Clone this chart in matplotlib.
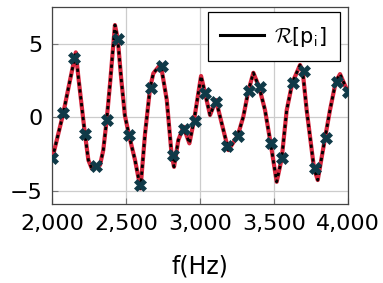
import numpy as np
import matplotlib
matplotlib.use("Agg")
import matplotlib.pyplot as plt
from matplotlib.lines import Line2D

plt.rcParams['font.family'] = ['DejaVu Sans']
plt.rcParams['mathtext.fontset'] = 'cm'

# curve (frequency in Hz, value)
curve_f = [2000, 2074, 2113, 2159, 2176, 2221, 2244, 2267, 2294, 2323,
           2345, 2368, 2391, 2424, 2443, 2466, 2491, 2519, 2560, 2597,
           2628, 2662, 2684, 2734, 2775, 2808, 2824, 2853, 2888, 2928,
           2959, 3007, 3034, 3068, 3108, 3147, 3192, 3255, 3293, 3327,
           3361, 3401, 3440, 3478, 3519, 3553, 3587, 3625, 3677, 3695,
           3722, 3772, 3797, 3846, 3880, 3919, 3948, 4000]
curve_v = [-2.80, 0.27, 2.20, 4.43, 2.77, -1.14, -2.91, -3.48, -3.30, -3.25,
           -2.23, -0.18, 2.32, 6.29, 5.34, 2.68, 0.15, -1.20, -2.91, -4.84,
           -1.09, 2.02, 3.00, 3.63, 1.18, -2.57, -3.37, -1.55, -0.64, -1.77,
           -0.23, 2.82, 1.64, 0.16, 1.18, -0.41, -2.23, -1.25, 0.04, 1.79,
           3.04, 2.04, 0.50, -1.77, -4.39, -2.80, 0.50, 2.36, 3.57, 3.16,
           0.50, -3.48, -4.27, -1.43, 0.50, 2.43, 2.95, 1.75]

# sample points (crosses)
pts_f = np.linspace(2000, 4000, 28)
pts_v = [-2.80, 0.27, 4.02, -1.14, -3.30, -0.18, 5.34, -1.20, -4.60, 2.02,
         3.52, -2.57, -0.80, -0.23, 1.64, 1.02, -1.93, -1.25, 1.79, 2.04,
         -1.77, -2.80, 2.36, 3.16, -3.48, -1.43, 2.43, 1.75]

fig = plt.figure(figsize=(3.83, 2.83), dpi=100)
ax = fig.add_axes([0.1366, 0.2792, 0.7713, 0.695])

ax.plot(curve_f, curve_v, color='#d7263d', lw=3.0, solid_capstyle='round', zorder=3)
ax.plot(curve_f, curve_v, color='black', lw=2.0, linestyle=(0, (1.2, 1.3)), zorder=4)
ax.plot(pts_f, pts_v, linestyle='none', marker='X', ms=8, color='#0f3a48',
        markeredgecolor='#0f3a48', markeredgewidth=0.5, zorder=5)

ax.set_xlim(2000, 4000)
ax.set_ylim(-5.9, 7.5)
ax.set_xticks([2000, 2500, 3000, 3500, 4000])
ax.set_xticklabels(['2,000', '2,500', '3,000', '3,500', '4,000'])
ax.set_yticks([-5, 0, 5])
ax.set_yticklabels(['\u22125', '0', '5'])
ax.grid(True, color='#cccccc', lw=0.9)
ax.set_axisbelow(True)
ax.tick_params(direction='in', length=4, color='#777777', labelsize=16, pad=7)
for s in ax.spines.values():
    s.set_color('#444444')
    s.set_linewidth(0.9)
ax.set_xlabel('f(Hz)', fontsize=17, labelpad=15)

handle = Line2D([], [], color='black', lw=2.2)
leg = ax.legend([handle], [r'$\mathcal{R}$[p$_\mathsf{i}$]'], loc='upper right',
                bbox_to_anchor=(0.974, 0.976), borderaxespad=0, fontsize=15,
                fancybox=False, framealpha=1, edgecolor='black',
                handlelength=2.1, handletextpad=0.5, borderpad=0.6)
leg.get_frame().set_linewidth(0.9)

fig.savefig('out.png', dpi=100)
